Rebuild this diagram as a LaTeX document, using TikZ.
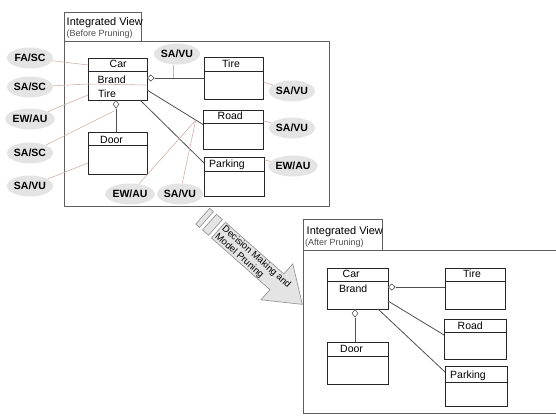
\documentclass[tikz,border=0pt]{standalone}
\usepackage{fontspec}
\setmainfont{Liberation Sans}
\usetikzlibrary{shapes.geometric,calc}
\definecolor{notecol}{RGB}{205,178,170}
\definecolor{ovalfill}{RGB}{228,228,228}
\definecolor{linecol}{RGB}{80,80,80}
\definecolor{framecol}{RGB}{95,95,95}
\definecolor{arrowfill}{RGB}{228,228,228}
\definecolor{arrowdraw}{RGB}{140,140,140}
\begin{document}
\begin{tikzpicture}[x=1pt,y=-1pt,
  umlbox/.style={draw=black!85, line width=0.8pt, inner sep=0},
  divline/.style={draw=black!85, line width=0.8pt},
  lbl/.style={font=\fontsize{10.5}{12}\selectfont, inner sep=0, anchor=base west},
  oval/.style={ellipse, fill=ovalfill, minimum width=46pt, minimum height=21pt, inner sep=0, font=\bfseries\fontsize{10.5}{12}\selectfont},
  note/.style={draw=notecol, line width=0.6pt},
  assoc/.style={draw=linecol, line width=0.8pt},
  aggh/.style={diamond, draw=linecol, fill=white, inner sep=0, line width=0.6pt, minimum width=7pt, minimum height=6.5pt},
  aggv/.style={diamond, draw=linecol, fill=white, inner sep=0, line width=0.6pt, minimum width=6pt, minimum height=8pt},
  frame/.style={draw=framecol, line width=0.8pt},
  tabtitle/.style={font=\fontsize{11}{13}\selectfont, inner sep=0, anchor=base west},
  tabsub/.style={font=\fontsize{9}{11}\selectfont, text=black!70, inner sep=0, anchor=base west},
  arrowpart/.style={fill=arrowfill, draw=arrowdraw, line width=0.6pt, line join=miter},
]
\useasboundingbox (0,0) rectangle (556,415);

% ---------------- Frame 1 (before pruning)
\draw[frame] (64,12) rectangle (141,41);
\draw[frame] (64,41) rectangle (329,206);
\node[tabtitle] (t1a) at (66.5,25) {Integrated View};
\node[tabsub] (t1b) at (66.5,36.3) {(Before Pruning)};

% class boxes
\node[umlbox, minimum width=59pt, minimum height=42pt] (car1) at (117.5,79) {};
\draw[divline] ([yshift=-14pt]car1.north west) -- ([yshift=-14pt]car1.north east);
\node[lbl] (car1t) at (109.5,67) {Car};
\node[lbl] (car1b) at (97.5,83) {Brand};
\node[lbl] (car1r) at (98,97) {Tire};

\node[umlbox, minimum width=59pt, minimum height=42pt] (tire1) at (233.5,78) {};
\draw[divline] ([yshift=-14.5pt]tire1.north west) -- ([yshift=-14.5pt]tire1.north east);
\node[lbl] (tire1t) at (222,67) {Tire};

\node[umlbox, minimum width=60pt, minimum height=39pt] (road1) at (233,129.5) {};
\draw[divline] ([yshift=-14pt]road1.north west) -- ([yshift=-14pt]road1.north east);
\node[lbl] (road1t) at (217.5,119) {Road};

\node[umlbox, minimum width=60pt, minimum height=39pt] (park1) at (234,176.5) {};
\draw[divline] ([yshift=-14.5pt]park1.north west) -- ([yshift=-14.5pt]park1.north east);
\node[lbl] (park1t) at (209,167) {Parking};

\node[umlbox, minimum width=59pt, minimum height=42pt] (door1) at (117.5,153) {};
\draw[divline] ([yshift=-14pt]door1.north west) -- ([yshift=-14pt]door1.north east);
\node[lbl] (door1t) at (100,143) {Door};

% associations
\node[aggh, anchor=west] (dA1) at (147,78) {};
\draw[assoc] (dA1.east) -- (dA1.east -| tire1.west);
\node[aggv, anchor=north] (dB1) at (116,100) {};
\draw[assoc] (dB1.south) -- (dB1.south |- door1.north);
\coordinate (c1road) at (147,90);
\coordinate (r1in) at (203,124.5);
\draw[assoc] (c1road) -- (r1in);
\coordinate (c1park) at (140,100);
\coordinate (p1in) at (204,163);
\draw[assoc] (c1park) -- (p1in);

% annotation ovals
\node[oval] (o1) at (30,58) {FA/SC};
\node[oval] (o2) at (30,87) {SA/SC};
\node[oval] (o3) at (30,119) {EW/AU};
\node[oval] (o4) at (30,153) {SA/SC};
\node[oval] (o5) at (30,186) {SA/VU};
\node[oval] (o6) at (177,54) {SA/VU};
\node[oval] (o7) at (292,91) {SA/VU};
\node[oval] (o8) at (292,128) {SA/VU};
\node[oval] (o9) at (293,166) {EW/AU};
\node[oval] (o10) at (130,194) {EW/AU};
\node[oval] (o11) at (180,194) {SA/VU};

% annotation connectors
\coordinate (n1) at (88,65);
\coordinate (n2) at (88,84);
\coordinate (n2b) at (146,85);
\coordinate (n3) at (88,95);
\coordinate (n4) at (114,111);
\coordinate (n5) at (88,163);
\coordinate (n6) at (173,78);
\coordinate (n7) at (263.5,82);
\coordinate (n8) at (263.5,121);
\coordinate (n9) at (264.5,160);
\coordinate (n10) at ($(c1road)!0.87!(r1in)$);
\draw[note] (o1) -- (n1);
\draw[note] (o2) -- (n2) -- (n2b);
\draw[note] (o3) -- (n3);
\draw[note] (o4) -- (n4);
\draw[note] (o5) -- (n5);
\draw[note] (o6.south -| n6) -- (n6);
\draw[note] (n7) -- (o7);
\draw[note] (n8) -- (o8);
\draw[note] (n9) -- (o9);
\draw[note] (o10) -- (n10);
\draw[note] (o11) -- (n10);

% ---------------- Big arrow
\begin{scope}[x={(0.749pt,-0.663pt)}, y={(-0.663pt,-0.749pt)}]
  \draw[arrowpart] (295,17) -- (300,17) -- (300,38) -- (295,38) -- cycle;
  \draw[arrowpart] (304,17) -- (312,17) -- (312,38) -- (304,38) -- cycle;
  \draw[arrowpart] (316,17) -- (394,17) -- (394,3.5) -- (428,27.5) -- (394,51.5) -- (394,38) -- (316,38) -- cycle;
  \node[rotate=-41.5, anchor=west, align=left, inner sep=0,
        font=\fontsize{9.5}{10.5}\selectfont] (atext) at (318,28) {Decision Making and\\Model Pruning};
\end{scope}

% ---------------- Frame 2 (after pruning)
\draw[frame] (303,219) rectangle (382,250);
\draw[frame] (556,250) -- (303,250) -- (303,413) -- (556,413);
\node[tabtitle] (t2a) at (306.5,234.6) {Integrated View};
\node[tabsub] (t2b) at (305,245.5) {(After Pruning)};

\node[umlbox, minimum width=61pt, minimum height=41pt] (car2) at (357.5,288.5) {};
\draw[divline] ([yshift=-14pt]car2.north west) -- ([yshift=-14pt]car2.north east);
\node[lbl] (car2t) at (342.5,277.5) {Car};
\node[lbl] (car2b) at (339,292.5) {Brand};

\node[umlbox, minimum width=60pt, minimum height=41pt] (tire2) at (475,288.5) {};
\draw[divline] ([yshift=-14pt]tire2.north west) -- ([yshift=-14pt]tire2.north east);
\node[lbl] (tire2t) at (463,277.5) {Tire};

\node[umlbox, minimum width=62pt, minimum height=40pt] (road2) at (475,339) {};
\draw[divline] ([yshift=-14pt]road2.north west) -- ([yshift=-14pt]road2.north east);
\node[lbl] (road2t) at (457.5,329) {Road};

\node[umlbox, minimum width=62pt, minimum height=40pt] (park2) at (476,386) {};
\draw[divline] ([yshift=-16.5pt]park2.north west) -- ([yshift=-16.5pt]park2.north east);
\node[lbl] (park2t) at (450,378) {Parking};

\node[umlbox, minimum width=61pt, minimum height=42pt] (door2) at (357.5,363) {};
\draw[divline] ([yshift=-15pt]door2.north west) -- ([yshift=-15pt]door2.north east);
\node[lbl] (door2t) at (340,352.5) {Door};

\node[aggh, anchor=west] (dA2) at (388,287) {};
\draw[assoc] (dA2.east) -- (dA2.east -| tire2.west);
\node[aggv, anchor=north] (dB2) at (355,309) {};
\draw[assoc] (dB2.south) -- (dB2.south |- door2.north);
\coordinate (c2road) at (388,301);
\coordinate (r2in) at (444,335);
\draw[assoc] (c2road) -- (r2in);
\coordinate (c2park) at (378,309);
\coordinate (p2in) at (445,372);
\draw[assoc] (c2park) -- (p2in);
\end{tikzpicture}
\end{document}
